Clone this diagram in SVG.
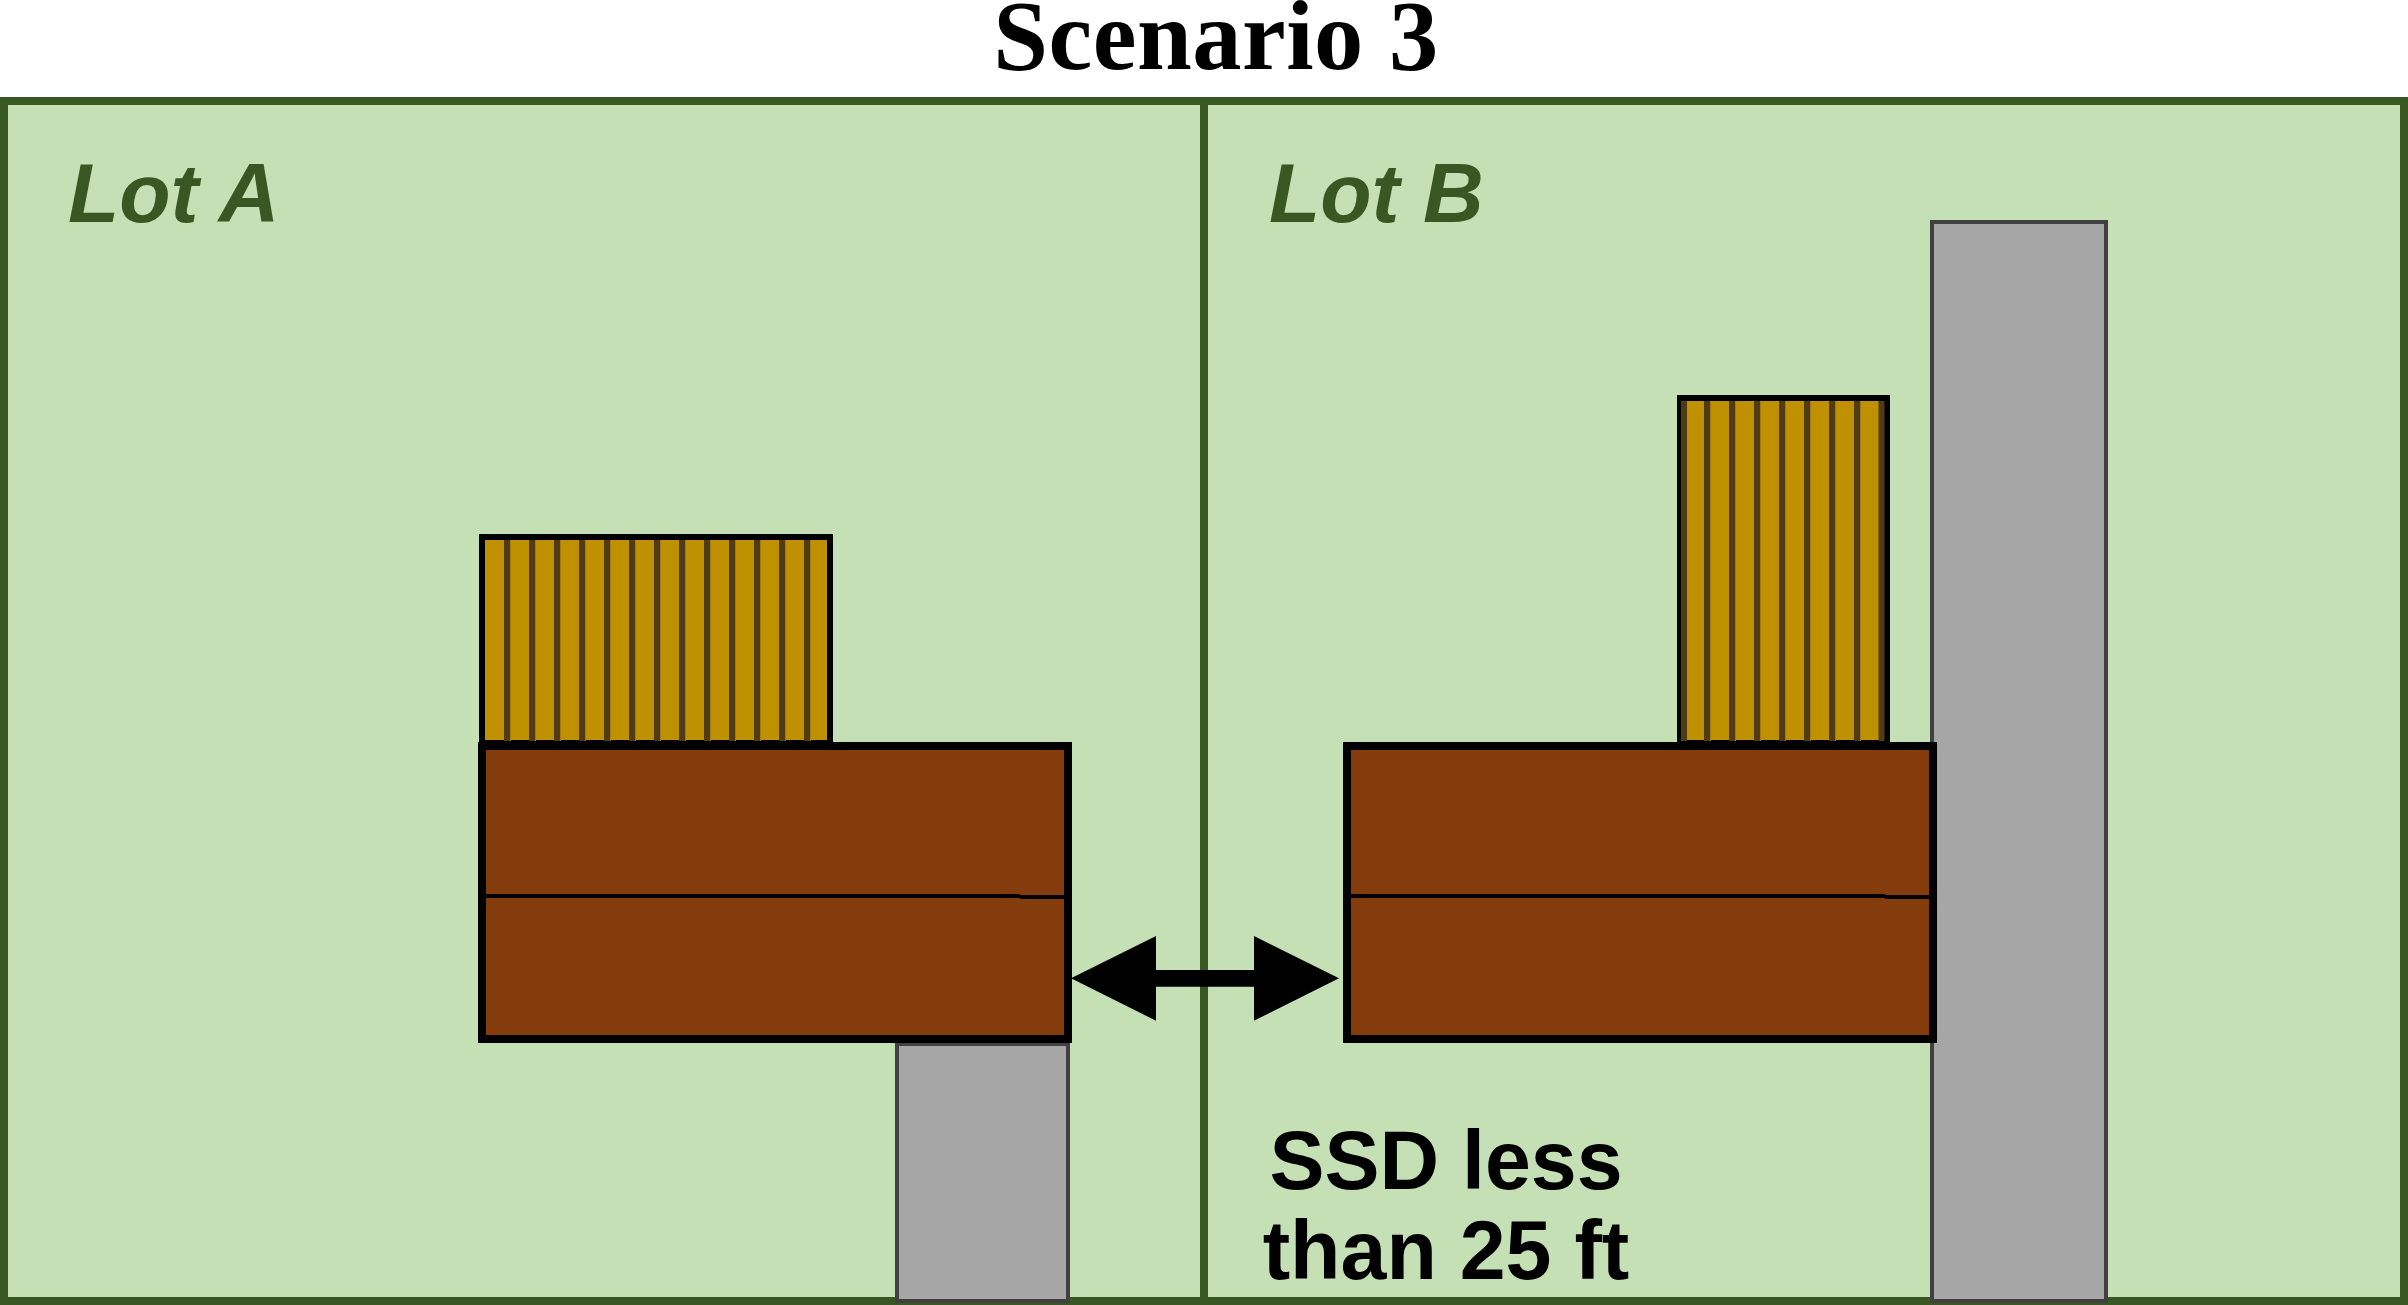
<svg xmlns="http://www.w3.org/2000/svg" width="2408" height="1305" viewBox="0 0 2408 1305">
<style>
.lot{fill:#c5e0b4;stroke:#385723;stroke-width:8}
.div{stroke:#385723;stroke-width:8;fill:none}
.road{fill:#a6a6a6;stroke:#404040;stroke-width:4}
.shed{fill:#bf9000;stroke:#000;stroke-width:6}
.stripe{stroke:#4f3c16;stroke-width:6;fill:none}
.shine{stroke:#a37b0d;stroke-width:1;fill:none}
.house{fill:#843c0c;stroke:#000;stroke-width:8}
.mid{stroke:#000;stroke-width:4;fill:none;shape-rendering:crispEdges}
.lbl{font-family:"Liberation Sans",Arial,sans-serif;font-weight:bold;font-style:italic;font-size:84px;fill:#385723}
.ssd{font-family:"Liberation Sans",Arial,sans-serif;font-weight:bold;font-size:82.500px;fill:#000;text-anchor:middle}
.title{font-family:"Liberation Serif","Times New Roman",serif;font-weight:bold;font-size:98.500px;letter-spacing:0.500px;fill:#000;text-anchor:middle}
</style>
<rect width="2408" height="1305" fill="#fff"/>
<text id="title" class="title" x="1216" y="69">Scenario 3</text>
<g id="site">
<rect class="lot" x="4" y="101" width="2400" height="1200"/>
<line class="div" x1="1204" y1="101" x2="1204" y2="1301"/>
</g>
<g id="lot-a-label"><text class="lbl" x="68" y="222">Lot A</text></g>
<g id="lot-b-label"><text class="lbl" x="1269" y="222">Lot B</text></g>
<g id="driveway-a"><rect class="road" x="897" y="1044" width="171" height="257"/></g>
<g id="driveway-b"><rect class="road" x="1932" y="222" width="174" height="1079"/></g>
<g id="shed-a">
<rect class="shed" x="482" y="537" width="348" height="206"/>
<path class="stripe" d="M507 540V741M532 540V741M557 540V741M582 540V741M607 540V741M632 540V741M657 540V741M682 540V741M707 540V741M732 540V741M757 540V741M782 540V741M807 540V741"/>
<path class="shine" d="M510.500 540V741M535.500 540V741M560.500 540V741M585.500 540V741M610.500 540V741M635.500 540V741M660.500 540V741M685.500 540V741M710.500 540V741M735.500 540V741M760.500 540V741M785.500 540V741M810.500 540V741"/>
</g>
<g id="shed-b">
<rect class="shed" x="1680" y="398" width="207" height="345"/>
<path class="stripe" d="M1684 401V741M1707 401V741M1732 401V741M1757 401V741M1782 401V741M1807 401V741M1832 401V741M1857 401V741M1881.500 401V741"/>
<path class="shine" d="M1710.500 401V741M1735.500 401V741M1760.500 401V741M1785.500 401V741M1810.500 401V741M1835.500 401V741M1860.500 401V741"/>
</g>
<g id="house-a">
<rect class="house" x="482" y="746" width="586" height="293"/>
<path class="mid" d="M486 896H1020M1020 897H1064"/>
</g>
<g id="house-b">
<rect class="house" x="1347" y="746" width="586" height="293"/>
<path class="mid" d="M1351 896H1885M1885 897H1929"/>
</g>
<g id="connectors">
<polygon fill="#000" points="1071,978.300 1156,936 1156,970 1254,970 1254,936 1339,978.300 1254,1020.700 1254,986.700 1156,986.700 1156,1020.700"/>
</g>
<g id="ssd-label">
<text class="ssd" x="1446" y="1189">SSD less</text>
<text class="ssd" x="1446" y="1279">than 25 ft</text>
</g>
</svg>
